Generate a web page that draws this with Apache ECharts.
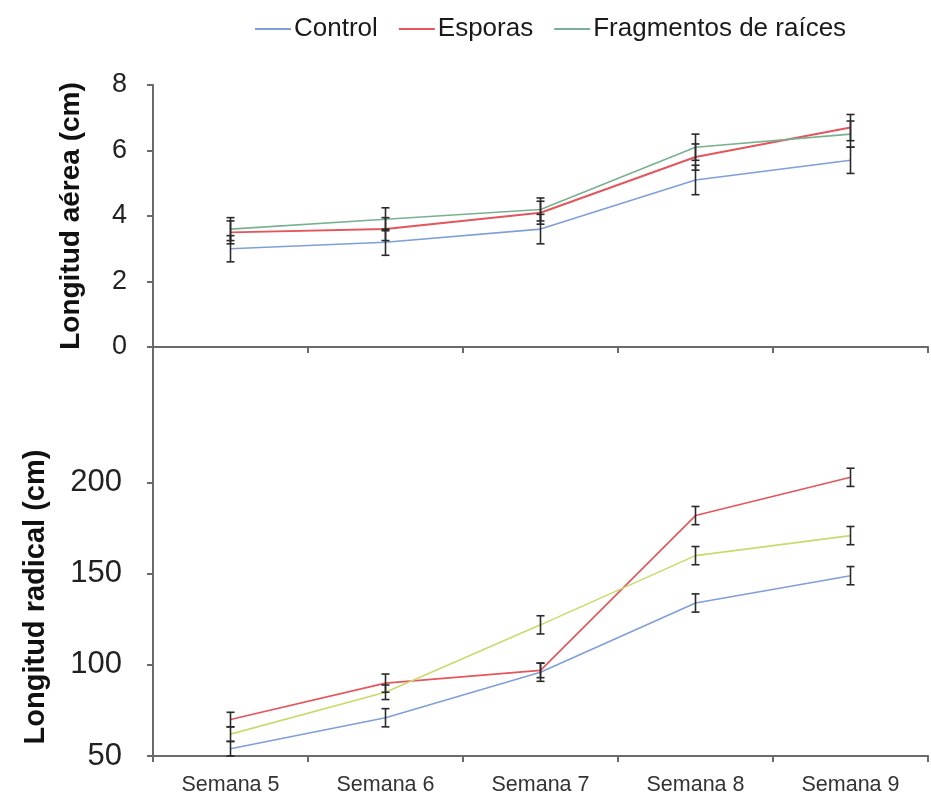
<!DOCTYPE html>
<html><head><meta charset="utf-8">
<script src="https://cdn.jsdelivr.net/npm/echarts@6/dist/echarts.min.js"></script>
<style>html,body{margin:0;padding:0;background:#fff}#c{width:931px;height:796px}</style>
</head><body><div id="c"></div>
<script>
const categories = ['Semana 5','Semana 6','Semana 7','Semana 8','Semana 9'];
const seriesNames = ['Control','Esporas','Fragmentos de raíces'];
// Top panel: Longitud aérea (cm)
const aereaControl = [3.0, 3.2, 3.6, 5.1, 5.7];
const aereaControlErr = [0.4, 0.4, 0.45, 0.45, 0.4];
const aereaEsporas = [3.5, 3.6, 4.1, 5.8, 6.7];
const aereaEsporasErr = [0.35, 0.35, 0.35, 0.4, 0.4];
const aereaFrag = [3.6, 3.9, 4.2, 6.1, 6.5];
const aereaFragErr = [0.35, 0.35, 0.35, 0.4, 0.4];
const aereaTicks = [0, 2, 4, 6, 8];
// Bottom panel: Longitud radical (cm)
const radControl = [54, 71, 96, 134, 149];
const radControlErr = [4, 5, 5, 5, 5];
const radEsporas = [70, 90, 97, 182, 203];
const radEsporasErr = [4, 5, 4, 5, 5];
const radFrag = [62, 85, 122, 160, 171];
const radFragErr = [4, 4, 5, 5, 5];
const radTicks = [50, 100, 150, 200];

const FONT = 'Liberation Sans, Arial, sans-serif';
const AX = '#6a6a6a';
const C_BLUE = '#7f9fd8', C_RED = '#e5555c', C_GREEN = '#78b191', C_YG = '#c9da6c';

function errData(vals, errs) {
  return vals.map((v, i) => [i, v - errs[i], v + errs[i]]);
}
function errSeries(x, y, vals, errs) {
  return {
    type: 'custom', xAxisIndex: x, yAxisIndex: y, z: 10, silent: true,
    data: errData(vals, errs),
    renderItem: function (params, api) {
      const lo = api.coord([api.value(0), api.value(1)]);
      const hi = api.coord([api.value(0), api.value(2)]);
      const w = 4;
      const st = { stroke: '#2a2a2a', lineWidth: 1.6 };
      return { type: 'group', children: [
        { type: 'line', shape: { x1: lo[0], y1: lo[1], x2: hi[0], y2: hi[1] }, style: st },
        { type: 'line', shape: { x1: lo[0]-w, y1: lo[1], x2: lo[0]+w, y2: lo[1] }, style: st },
        { type: 'line', shape: { x1: hi[0]-w, y1: hi[1], x2: hi[0]+w, y2: hi[1] }, style: st }
      ]};
    }
  };
}
function lineSeries(name, x, y, vals, color, w) {
  return { name: name, type: 'line', xAxisIndex: x, yAxisIndex: y, data: vals,
    symbol: 'none', color: color, lineStyle: { color: color, width: w || 1.6 }, z: 5 };
}

const chart = echarts.init(document.getElementById('c'));
chart.setOption({
  animation: false,
  backgroundColor: '#fff',
  legend: {
    data: seriesNames, left: 250, top: 11, icon: 'rect', itemWidth: 36, itemHeight: 2,
    itemGap: 21, textStyle: { fontFamily: FONT, fontSize: 26, color: '#1a1a1a', padding: [0, 0, 0, -2] }
  },
  grid: [
    { left: 153, right: 3, top: 85, height: 262 },
    { left: 153, right: 3, top: 348, bottom: 40 }
  ],
  xAxis: [
    { type: 'category', gridIndex: 0, data: categories, boundaryGap: true,
      axisLine: { lineStyle: { color: AX, width: 2 } },
      axisTick: { show: true, length: 6, lineStyle: { color: AX, width: 2 } },
      axisLabel: { show: false }, splitLine: { show: false } },
    { type: 'category', gridIndex: 1, data: categories, boundaryGap: true,
      axisLine: { lineStyle: { color: AX, width: 2 } },
      axisTick: { show: true, length: 6, lineStyle: { color: AX, width: 2 } },
      axisLabel: { fontFamily: FONT, fontSize: 21.5, color: '#333', margin: 18 },
      splitLine: { show: false } }
  ],
  yAxis: [
    { type: 'value', gridIndex: 0, min: 0, max: 8, interval: 2,
      name: 'Longitud aérea (cm)', nameLocation: 'middle', nameGap: 68, nameRotate: 90,
      nameTextStyle: { fontFamily: FONT, fontSize: 28, fontWeight: 'bold', color: '#111' },
      axisLine: { show: true, lineStyle: { color: AX, width: 2 } },
      axisTick: { show: true, length: 6, lineStyle: { color: AX, width: 2 } },
      axisLabel: { fontFamily: FONT, fontSize: 27, color: '#222', margin: 26,
        customValues: aereaTicks },
      splitLine: { show: false } },
    { type: 'value', gridIndex: 1, min: 50, max: 274, interval: 50,
      axisLine: { show: true, lineStyle: { color: AX, width: 2 } },
      axisTick: { show: true, length: 6, lineStyle: { color: AX, width: 2 }, customValues: radTicks },
      axisLabel: { fontFamily: FONT, fontSize: 31, color: '#222', margin: 31, customValues: radTicks },
      splitLine: { show: false } }
  ],
  graphic: [
    { type: 'text', x: 36, y: 597, rotation: Math.PI / 2,
      style: { text: 'Longitud radical (cm)', fontFamily: FONT, fontSize: 29, fontWeight: 'bold',
        fill: '#111', align: 'center', verticalAlign: 'middle' } }
  ],
  series: [
    lineSeries('Control', 0, 0, aereaControl, C_BLUE),
    lineSeries('Esporas', 0, 0, aereaEsporas, C_RED, 2),
    lineSeries('Fragmentos de raíces', 0, 0, aereaFrag, C_GREEN),
    lineSeries('Control', 1, 1, radControl, C_BLUE),
    lineSeries('Esporas', 1, 1, radEsporas, C_RED),
    lineSeries('Fragmentos de raíces', 1, 1, radFrag, C_YG),
    errSeries(0, 0, aereaControl, aereaControlErr),
    errSeries(0, 0, aereaEsporas, aereaEsporasErr),
    errSeries(0, 0, aereaFrag, aereaFragErr),
    errSeries(1, 1, radControl, radControlErr),
    errSeries(1, 1, radEsporas, radEsporasErr),
    errSeries(1, 1, radFrag, radFragErr)
  ]
});
</script></body></html>
